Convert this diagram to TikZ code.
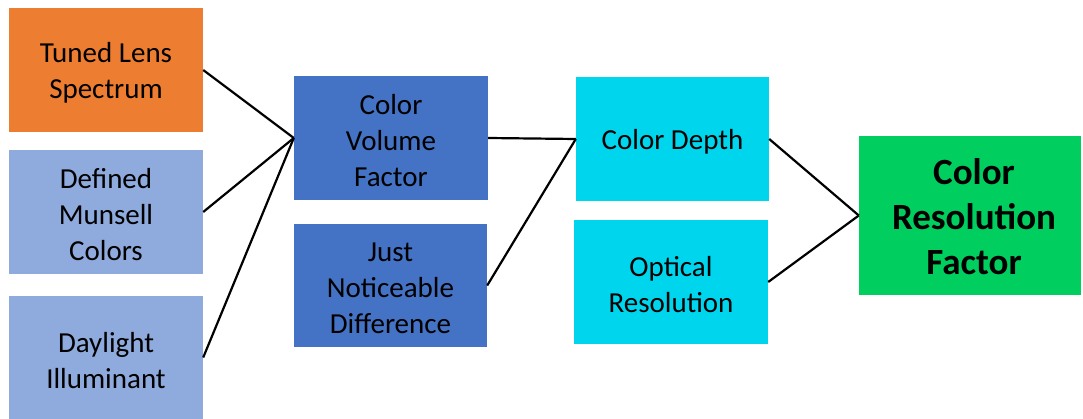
\documentclass[tikz,border=0pt]{standalone}
\usepackage{fontspec}
\setmainfont{Carlito}
\definecolor{orangeC}{HTML}{ED7D31}
\definecolor{lightblueC}{HTML}{8FAADC}
\definecolor{blueC}{HTML}{4472C4}
\definecolor{cyanC}{HTML}{00D5EE}
\definecolor{greenC}{HTML}{00CF5F}
\begin{document}
\begin{tikzpicture}[x=1pt,y=-1pt,
  box/.style={inner sep=0pt},
  txt/.style={inner sep=0pt, align=center, font=\fontsize{29}{36}\selectfont, text=black, yshift=-3pt},
  big/.style={inner sep=0pt, align=center, font=\fontsize{37}{45}\selectfont\bfseries, text=black, yshift=-1.5pt, xshift=4pt},
  conn/.style={draw=black, line width=2.2pt}]
\useasboundingbox (0,0) rectangle (1083,419);
\node[box, fill=orangeC, minimum width=194pt, minimum height=124pt, label={[txt]center:Tuned Lens\\Spectrum}] (tuned) at (106,70) {};
\node[box, fill=lightblueC, minimum width=194pt, minimum height=124pt, label={[txt]center:Defined\\Munsell\\Colors}] (munsell) at (106,212) {};
\node[box, fill=lightblueC, minimum width=194pt, minimum height=123pt, label={[txt]center:Daylight\\Illuminant}] (daylight) at (106,357.5) {};
\node[box, fill=blueC, minimum width=194pt, minimum height=124pt, label={[txt]center:Color\\Volume\\Factor}] (cvf) at (391,138) {};
\node[box, fill=blueC, minimum width=193pt, minimum height=123pt, label={[txt]center:Just\\Noticeable\\Difference}] (jnd) at (390.5,285.5) {};
\node[box, fill=cyanC, minimum width=193pt, minimum height=124pt, label={[txt]center:Color Depth}] (depth) at (672.5,139) {};
\node[box, fill=cyanC, minimum width=194pt, minimum height=124pt, label={[txt]center:Optical\\Resolution}] (optical) at (671,282) {};
\node[box, fill=greenC, minimum width=222pt, minimum height=159pt, label={[big]center:Color\\Resolution\\Factor}] (crf) at (970,215.5) {};
\draw[conn] (tuned.east) -- (cvf.west);
\draw[conn] (munsell.east) -- (cvf.west);
\draw[conn] (daylight.east) -- (cvf.west);
\draw[conn] (cvf.east) -- (depth.west);
\draw[conn] (jnd.east) -- (depth.west);
\draw[conn] (depth.east) -- (crf.west);
\draw[conn] (optical.east) -- (crf.west);
\end{tikzpicture}
\end{document}
